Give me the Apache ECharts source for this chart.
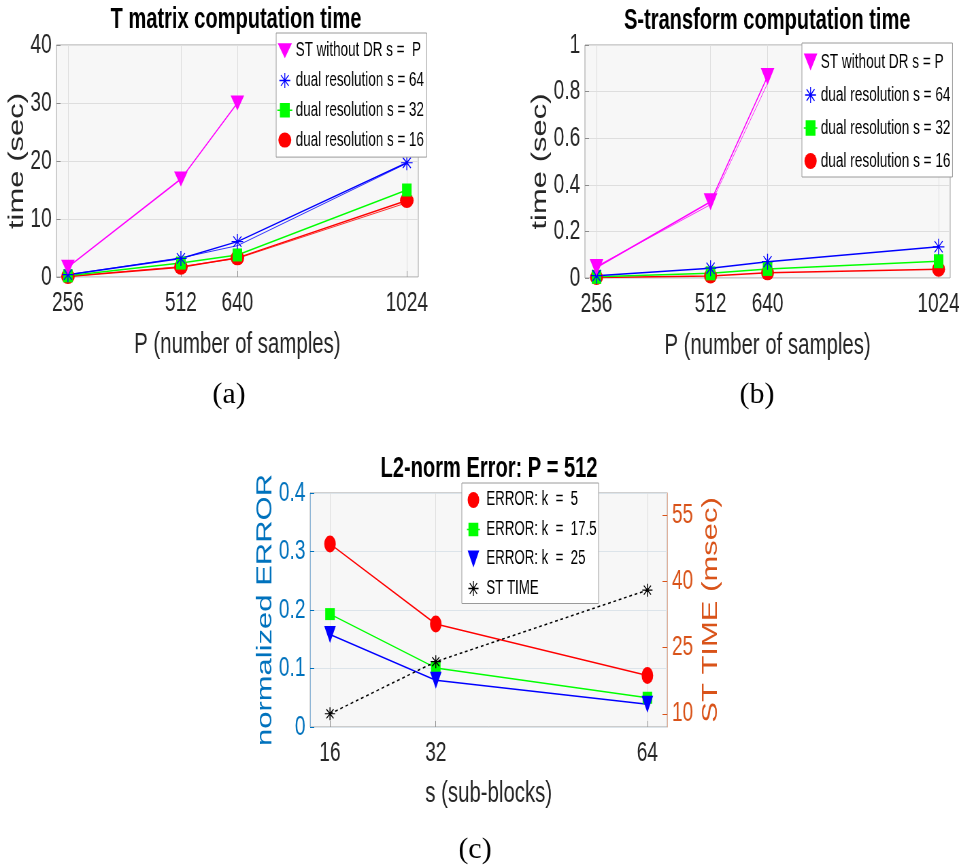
<!DOCTYPE html>
<html>
<head>
<meta charset="utf-8">
<script src="https://cdn.jsdelivr.net/npm/echarts@6/dist/echarts.min.js"></script>
<style>
  html, body { margin: 0; padding: 0; width: 959px; height: 866px; overflow: hidden; background: #fff; }
  /* the figure is laid out on a wider canvas and squeezed horizontally */
  #chart { width: 1410px; height: 866px; transform: scaleX(0.680142); transform-origin: 0 0; }
</style>
</head>
<body>
<div id="chart"></div>
<script>
const SQUEEZE = 959 / 1410;
const FONT = 'Liberation Sans';

// (a) T matrix computation time, seconds
const samplesP = [256, 512, 640, 1024];
const samplesStOnly = [256, 512, 640];
const tMatrixStNoDr = [1.7, 16.9, 30.0];
const tMatrixDr64 = [0.4, 3.2, 6.1, 19.7];
const tMatrixDr32 = [0.2, 2.4, 3.8, 15.0];
const tMatrixDr16 = [0.1, 1.7, 3.3, 13.2];
// second run of the same timings
const tMatrixDr64Run2 = [0.4, 3.3, 5.4, 19.6];
const tMatrixDr16Run2 = [0.1, 1.8, 3.2, 12.8];

// (b) S-transform computation time, seconds
const stStNoDr = [0.045, 0.327, 0.865];
const stDr64 = [0.010, 0.042, 0.070, 0.134];
const stDr32 = [0.005, 0.020, 0.039, 0.072];
const stDr16 = [0.002, 0.009, 0.022, 0.038];
const stStNoDrRun2 = [0.050, 0.315, 0.835];

const ticksP = [256, 512, 640, 1024];

// (c) L2-norm error and ST time against number of sub-blocks
const subBlocks = [16, 32, 64];
const errK5 = [0.313, 0.176, 0.088];
const errK17_5 = [0.193, 0.101, 0.050];
const errK25 = [0.158, 0.080, 0.039];
const stTimeMs = [10.0, 21.8, 38.0];
const ticksTime = [10, 25, 40, 55];

const legendA = ['ST without DR s =  P', 'dual resolution s = 64', 'dual resolution s = 32', 'dual resolution s = 16'];
const legendB = ['ST without DR s = P', 'dual resolution s = 64', 'dual resolution s = 32', 'dual resolution s = 16'];
const legendC = ['ERROR: k  =  5', 'ERROR: k  =  17.5', 'ERROR: k  =  25', 'ST TIME'];

const MAGENTA = '#ff00ff', BLUE = '#0000ff', GREEN = '#00ff00', RED = '#ff0000', BLACK = '#000000';
const AX_BLUE = '#0072bd', AX_ORANGE = '#d95319', AX_GRAY = '#262626';
const STAR = 'path://M0,-10L0,10M-10,0L10,0M-7,-7L7,7M-7,7L7,-7';

function pairs(xs, ys) { return ys.map((y, i) => [xs[i], y]); }

function curve(name, xs, ys, xi, yi, color, symbol, size, extra) {
  const isStar = symbol === STAR;
  return Object.assign({
    type: 'line', name: name, xAxisIndex: xi, yAxisIndex: yi,
    data: pairs(xs, ys),
    symbol: symbol, symbolSize: size,
    lineStyle: { color: color, width: 1.5 },
    itemStyle: { color: color, borderColor: color, borderWidth: isStar ? 1.3 : 0 },
    silent: true, animation: false
  }, extra || {});
}

// thin trace without markers
function trace(name, xs, ys, xi, yi, color) {
  return {
    type: 'line', name: name, xAxisIndex: xi, yAxisIndex: yi, data: pairs(xs, ys),
    symbol: 'none', lineStyle: { color: color, width: 1, opacity: 0.8 }, silent: true, animation: false, z: 1
  };
}

// legend glyph drawn inside a w x h box
function icon(kind, w, h, mw, mh, stub) {
  const cx = w / 2, cy = h / 2;
  const x0 = cx - mw / 2, x1 = cx + mw / 2, y0 = cy - mh / 2, y1 = cy + mh / 2;
  let d = 'M0,0M' + w + ',' + h;
  if (stub) d += 'M' + (cx - stub / 2) + ',' + cy + 'L' + (cx + stub / 2) + ',' + cy;
  if (kind === 'tri') d += 'M' + x0 + ',' + y0 + 'L' + x1 + ',' + y0 + 'L' + cx + ',' + y1 + 'Z';
  else if (kind === 'circle') d += 'M' + x0 + ',' + cy + 'A' + (mw / 2) + ',' + (mh / 2) + ',0,1,0,' + x1 + ',' + cy +
    'A' + (mw / 2) + ',' + (mh / 2) + ',0,1,0,' + x0 + ',' + cy + 'Z';
  else if (kind === 'square') d += 'M' + x0 + ',' + y0 + 'L' + x1 + ',' + y0 + 'L' + x1 + ',' + y1 + 'L' + x0 + ',' + y1 + 'Z';
  else if (kind === 'star') {
    const dx = mw * 0.36, dy = mh * 0.36;
    d += 'M' + cx + ',' + y0 + 'L' + cx + ',' + y1 + 'M' + x0 + ',' + cy + 'L' + x1 + ',' + cy +
      'M' + (cx - dx) + ',' + (cy - dy) + 'L' + (cx + dx) + ',' + (cy + dy) +
      'M' + (cx - dx) + ',' + (cy + dy) + 'L' + (cx + dx) + ',' + (cy - dy);
  }
  return 'path://' + d;
}

function legendItem(name, iconPath, color, stroke) {
  return { name: name, icon: iconPath, itemStyle: { color: color, borderColor: color, borderWidth: stroke } };
}

function legendBox(left, top, iw, ih, gap, padding, fontSize, data) {
  return {
    left: left, top: top, orient: 'vertical', itemWidth: iw, itemHeight: ih, itemGap: gap,
    padding: padding, backgroundColor: '#ffffff', borderColor: '#9a9a9a', borderWidth: 1,
    selectedMode: false, symbolKeepAspect: false,
    textStyle: { fontFamily: FONT, fontSize: fontSize, color: '#000', lineHeight: 20 },
    data: data
  };
}

function gridBox(left, top, width, height) {
  return { left: left, top: top, width: width, height: height, show: true,
    backgroundColor: '#f7f7f7', borderColor: '#a0a0a0', borderWidth: 1, outerBoundsMode: 'none' };
}

const plain = v => String(v);
const tickLabel = { fontFamily: FONT, fontSize: 28, color: AX_GRAY };
const nameStyle = { fontFamily: FONT, fontSize: 30, color: AX_GRAY };

function samplesAxis(gi) {
  return {
    gridIndex: gi, type: 'value', min: 230, max: 1050,
    name: 'P (number of samples)', nameLocation: 'middle', nameGap: 53, nameTextStyle: nameStyle,
    axisLine: { show: false },
    axisTick: { show: true, inside: true, length: 6, customValues: ticksP, lineStyle: { color: '#8c8c8c' } },
    axisLabel: Object.assign({ customValues: ticksP, margin: 12, formatter: plain }, tickLabel),
    splitLine: { show: true, lineStyle: { color: '#dedede', width: 1 } }
  };
}

function timeAxis(gi, max, interval, gap) {
  return {
    gridIndex: gi, type: 'value', min: 0, max: max, interval: interval,
    name: 'time (sec)', nameLocation: 'middle', nameGap: gap, nameRotate: 90,
    nameTextStyle: Object.assign({}, nameStyle, { fontSize: 31 }),
    axisLine: { show: false },
    axisTick: { show: true, inside: true, length: 6, lineStyle: { color: '#8c8c8c' } },
    axisLabel: Object.assign({ margin: 7 }, tickLabel),
    splitLine: { show: true, lineStyle: { color: '#dedede', width: 1 } }
  };
}

const triDown = { symbolRotate: 180 };

const option = {
  animation: false,
  backgroundColor: '#ffffff',
  grid: [
    gridBox(83, 45, 532, 232),
    gridBox(860, 45, 537, 233),
    gridBox(456, 493, 525, 234)
  ],
  xAxis: [
    samplesAxis(0),
    samplesAxis(1),
    {
      gridIndex: 2, type: 'value', min: 13, max: 67,
      name: 's (sub-blocks)', nameLocation: 'middle', nameGap: 52, nameTextStyle: nameStyle,
      axisLine: { show: false },
      axisTick: { show: true, inside: true, length: 6, customValues: subBlocks, lineStyle: { color: '#8c8c8c' } },
      axisLabel: Object.assign({ customValues: subBlocks, margin: 12.5, formatter: plain }, tickLabel),
      splitLine: { show: true, lineStyle: { color: '#dedede', width: 1 } }
    }
  ],
  yAxis: [
    timeAxis(0, 40, 10, 35),
    timeAxis(1, 1, 0.2, 45),
    {
      gridIndex: 2, type: 'value', position: 'left', min: 0, max: 0.4, interval: 0.1,
      name: 'normalized ERROR', nameLocation: 'middle', nameGap: 47, nameRotate: 90,
      nameTextStyle: { fontFamily: FONT, fontSize: 31, color: AX_BLUE },
      axisLine: { show: true, lineStyle: { color: '#8fb6d6', width: 1 } },
      axisTick: { show: true, inside: true, length: 6, lineStyle: { color: AX_BLUE } },
      axisLabel: { margin: 7, fontFamily: FONT, fontSize: 28, color: AX_BLUE },
      splitLine: { show: true, lineStyle: { color: '#dce4ea', width: 1 } }
    },
    {
      gridIndex: 2, type: 'value', position: 'right', min: 7, max: 60,
      name: 'ST TIME (msec)', nameLocation: 'middle', nameGap: 49, nameRotate: 90,
      nameTextStyle: { fontFamily: FONT, fontSize: 31, color: AX_ORANGE },
      axisLine: { show: true, lineStyle: { color: '#e2ae96', width: 1 } },
      axisTick: { show: true, inside: true, length: 7, customValues: ticksTime, lineStyle: { color: AX_ORANGE } },
      axisLabel: { customValues: ticksTime, margin: 7, fontFamily: FONT, fontSize: 28, color: AX_ORANGE, formatter: plain },
      splitLine: { show: false }
    }
  ],
  legend: [
    legendBox(406, 33, 22, 16, 9.8, [7.7, 4, 7, 1], 19.8, [
      legendItem(legendA[0], icon('tri', 22, 16, 21, 15), MAGENTA, 0),
      legendItem(legendA[1], icon('star', 22, 16, 16, 15), BLUE, 1.3),
      legendItem(legendA[2], icon('square', 22, 16, 13, 13, 22), GREEN, 1.5),
      legendItem(legendA[3], icon('circle', 22, 16, 19, 15), RED, 0)
    ]),
    legendBox(1179, 43, 20, 18, 13, [9, 3, 6, 2], 20, [
      legendItem(legendB[0], icon('tri', 20, 18, 20, 17), MAGENTA, 0),
      legendItem(legendB[1], icon('star', 20, 18, 16, 16), BLUE, 1.3),
      legendItem(legendB[2], icon('square', 20, 18, 13, 14, 20), GREEN, 1.5),
      legendItem(legendB[3], icon('circle', 20, 18, 18, 16), RED, 0)
    ]),
    legendBox(679, 483, 28, 18, 9.5, [7, 3, 5, 2.3], 19.5, [
      legendItem(legendC[0], icon('circle', 28, 18, 17, 16), RED, 0),
      legendItem(legendC[1], icon('square', 28, 18, 13, 12, 19), GREEN, 1.5),
      legendItem(legendC[2], icon('tri', 28, 18, 17, 17), BLUE, 0),
      legendItem(legendC[3], icon('star', 28, 18, 15, 15), BLACK, 1.3)
    ])
  ],
  series: [
    // (a)
    trace('T s=16 run 2', samplesP, tMatrixDr16Run2, 0, 0, RED),
    trace('T s=64 run 2', samplesP, tMatrixDr64Run2, 0, 0, BLUE),
    curve(legendA[3], samplesP, tMatrixDr16, 0, 0, RED, 'circle', [20, 15]),
    curve(legendA[2], samplesP, tMatrixDr32, 0, 0, GREEN, 'rect', [14, 13]),
    curve(legendA[1], samplesP, tMatrixDr64, 0, 0, BLUE, STAR, [17, 15]),
    curve(legendA[0], samplesStOnly, tMatrixStNoDr, 0, 0, MAGENTA, 'triangle', [20, 15], triDown),
    // (b)
    trace('ST s=P run 2', samplesStOnly, stStNoDrRun2, 1, 1, MAGENTA),
    curve(legendB[3], samplesP, stDr16, 1, 1, RED, 'circle', [19, 15]),
    curve(legendB[2], samplesP, stDr32, 1, 1, GREEN, 'rect', [14, 14]),
    curve(legendB[1], samplesP, stDr64, 1, 1, BLUE, STAR, [17, 16]),
    curve(legendB[0], samplesStOnly, stStNoDr, 1, 1, MAGENTA, 'triangle', [20, 17], triDown),
    // (c)
    curve(legendC[0], subBlocks, errK5, 2, 2, RED, 'circle', [17, 17]),
    curve(legendC[1], subBlocks, errK17_5, 2, 2, GREEN, 'rect', [14, 12]),
    curve(legendC[2], subBlocks, errK25, 2, 2, BLUE, 'triangle', [17, 17], triDown),
    curve(legendC[3], subBlocks, stTimeMs, 2, 3, BLACK, STAR, [15, 13],
      { lineStyle: { color: BLACK, width: 1.5, type: [4, 4] } })
  ],
  graphic: [
    { type: 'text', x: 347, y: 19.5, silent: true,
      style: { text: 'T matrix computation time', font: 'bold 29.5px "Liberation Sans"', fill: '#000', align: 'center', verticalAlign: 'middle' } },
    { type: 'text', x: 1128, y: 21, silent: true,
      style: { text: 'S-transform computation time', font: 'bold 29.5px "Liberation Sans"', fill: '#000', align: 'center', verticalAlign: 'middle' } },
    { type: 'text', x: 719, y: 469, silent: true,
      style: { text: 'L2-norm Error: P = 512', font: 'bold 29.5px "Liberation Sans"', fill: '#000', align: 'center', verticalAlign: 'middle' } },
    { type: 'text', x: 229 / SQUEEZE, y: 395, scaleX: 1 / SQUEEZE, silent: true,
      style: { text: '(a)', font: '30px "Liberation Serif"', fill: '#000', align: 'center', verticalAlign: 'middle' } },
    { type: 'text', x: 757 / SQUEEZE, y: 395, scaleX: 1 / SQUEEZE, silent: true,
      style: { text: '(b)', font: '30px "Liberation Serif"', fill: '#000', align: 'center', verticalAlign: 'middle' } },
    { type: 'text', x: 475 / SQUEEZE, y: 850, scaleX: 1 / SQUEEZE, silent: true,
      style: { text: '(c)', font: '30px "Liberation Serif"', fill: '#000', align: 'center', verticalAlign: 'middle' } }
  ]
};

const chart = echarts.init(document.getElementById('chart'), null, { renderer: 'canvas' });
chart.setOption(option);
</script>
</body>
</html>
